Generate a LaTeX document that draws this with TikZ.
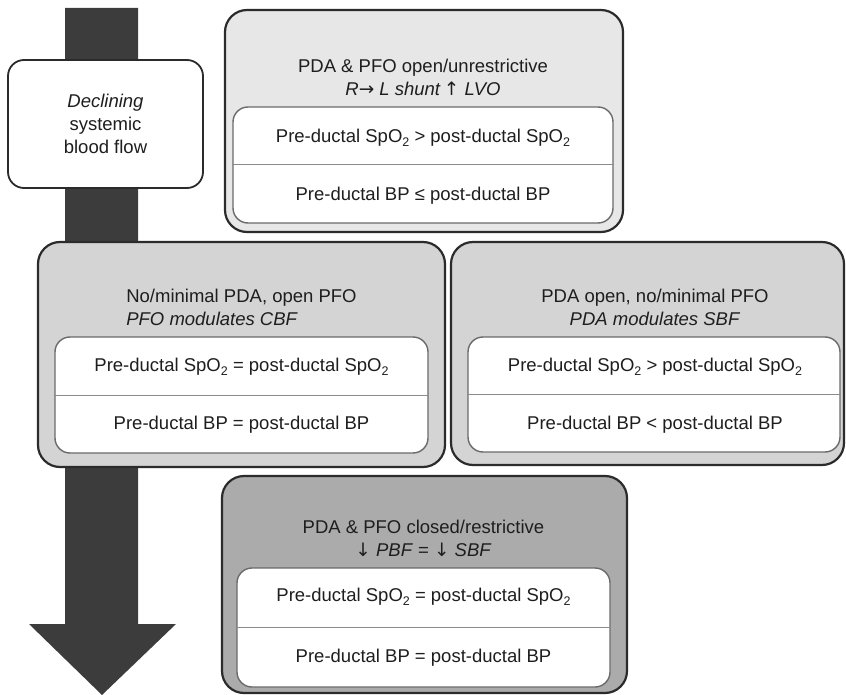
\documentclass[tikz,border=0pt]{standalone}
\usepackage{fontspec}
\setmainfont{Liberation Sans}
\newfontfamily\arrowfont{DejaVu Sans}
\newcommand\arw[1]{{\arrowfont\upshape #1}}
\newcommand\subtwo{\raisebox{-0.45ex}{\fontsize{12.5}{12.5}\selectfont 2}}
\definecolor{edge}{HTML}{2B2B2B}
\definecolor{inedge}{HTML}{6A6A6A}
\definecolor{divcol}{HTML}{8A8A8A}
\definecolor{ink}{HTML}{1E1E1E}
\definecolor{gtop}{HTML}{E7E7E7}
\definecolor{gmid}{HTML}{D4D4D4}
\definecolor{gbot}{HTML}{ABABAB}
\definecolor{arrowcol}{HTML}{3C3C3C}
\begin{document}
\begin{tikzpicture}[x=1pt,y=-1pt,font=\fontsize{18.5}{23}\selectfont]
\tikzset{
  outerbox/.style={draw=edge, line width=2.2pt, rounded corners=22pt, inner sep=0pt},
  innerbox/.style={draw=inedge, fill=white, line width=1.4pt, rounded corners=15pt, inner sep=0pt},
  declbox/.style={draw=edge, fill=white, line width=1.8pt, rounded corners=16pt, inner sep=0pt, align=center, text=ink},
  divider/.style={draw=divcol, line width=1pt},
  txt/.style={text=ink, align=center, inner sep=0pt},
  bigarrow/.style={fill=arrowcol, draw=none}
}
\useasboundingbox (0,0) rectangle (846,695);

% big downward arrow
\coordinate (a1) at (65,8);
\coordinate (a2) at (138,8);
\coordinate (a3) at (138,624);
\coordinate (a4) at (176,624);
\coordinate (tip) at (102,695);
\coordinate (a6) at (29,624);
\coordinate (a7) at (65,624);
\path[bigarrow] (a1) -- (a2) -- (a3) -- (a4) -- (tip) -- (a6) -- (a7) -- cycle;

% declining box
\node[declbox, minimum width=195pt, minimum height=128pt] (decl) at (105.5,124)
  {\textit{Declining}\\systemic\\blood flow};

% top box
\node[outerbox, fill=gtop, minimum width=398pt, minimum height=222pt] (top) at (424,121) {};
\node[innerbox, minimum width=380pt, minimum height=116pt] (topin) at (423,165) {};
\draw[divider] (topin.west) -- (topin.east);
\node[txt] (tophead) at (423,77) {PDA \& PFO open/unrestrictive\\\textit{R}\arw{→}\textit{ L shunt}\,\arw{↑}\textit{ LVO}};
\node[txt] (topspo) at (423,138) {Pre-ductal SpO\subtwo{} > post-ductal SpO\subtwo};
\node[txt] (topbp) at (423,196) {Pre-ductal BP ≤ post-ductal BP};

% left middle box
\node[outerbox, fill=gmid, minimum width=407pt, minimum height=225pt] (left) at (241.5,354.5) {};
\node[innerbox, minimum width=373pt, minimum height=116pt] (leftin) at (241.5,395) {};
\draw[divider] (leftin.west) -- (leftin.east);
\node[txt, align=left] (lefthead) at (241.5,307) {No/minimal PDA, open PFO\\\textit{PFO modulates CBF}};
\node[txt] (leftspo) at (241.5,367) {Pre-ductal SpO\subtwo{} = post-ductal SpO\subtwo};
\node[txt] (leftbp) at (241.5,425) {Pre-ductal BP = post-ductal BP};

% right middle box
\node[outerbox, fill=gmid, minimum width=393pt, minimum height=223pt] (right) at (647.5,353.5) {};
\node[innerbox, minimum width=372pt, minimum height=115pt] (rightin) at (654,394.5) {};
\draw[divider] (rightin.west) -- (rightin.east);
\node[txt] (righthead) at (655,307) {PDA open, no/minimal PFO\\\textit{PDA modulates SBF}};
\node[txt] (rightspo) at (655,367) {Pre-ductal SpO\subtwo{} > post-ductal SpO\subtwo};
\node[txt] (rightbp) at (655,425) {Pre-ductal BP < post-ductal BP};

% bottom box
\node[outerbox, fill=gbot, minimum width=405pt, minimum height=217pt] (bot) at (424.5,584.5) {};
\node[innerbox, minimum width=373pt, minimum height=119pt] (botin) at (423.5,627.5) {};
\draw[divider] (botin.west) -- (botin.east);
\node[txt] (bothead) at (423.5,538) {PDA \& PFO closed/restrictive\\\arw{↓} \textit{PBF} = \arw{↓} \textit{SBF}};
\node[txt] (botspo) at (423.5,597) {Pre-ductal SpO\subtwo{} = post-ductal SpO\subtwo};
\node[txt] (botbp) at (423.5,658) {Pre-ductal BP = post-ductal BP};
\end{tikzpicture}
\end{document}
